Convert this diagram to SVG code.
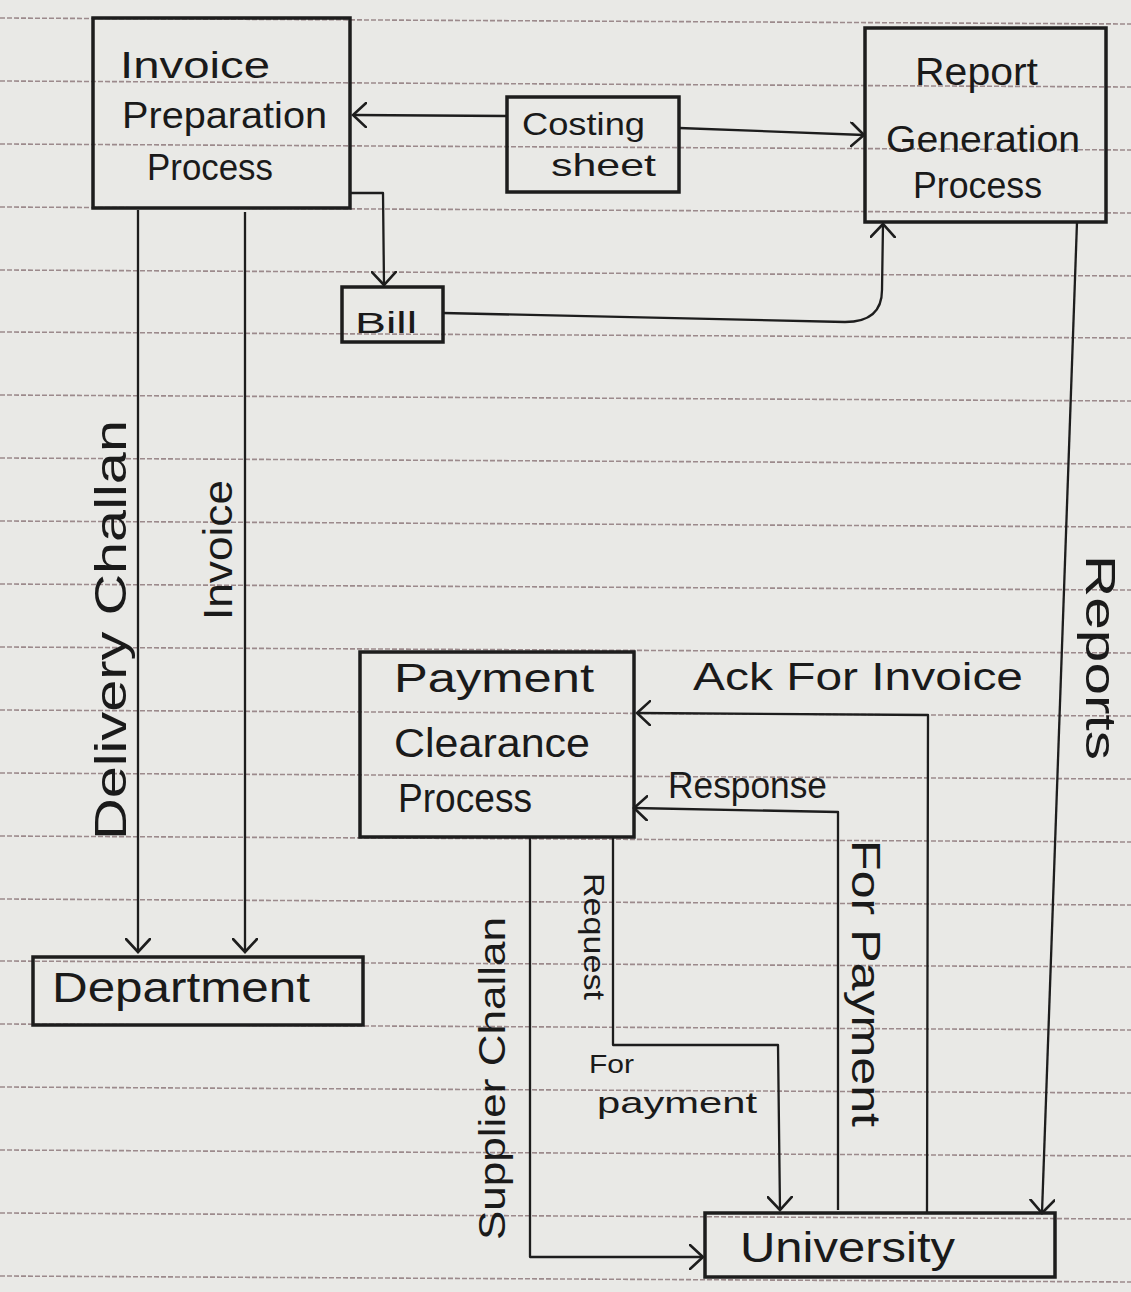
<svg xmlns="http://www.w3.org/2000/svg" width="1131" height="1292" viewBox="0 0 1131 1292">
<style>
.paper{fill:#e9e9e6}
.rule{stroke:#9c8a8c;stroke-width:1.6;stroke-dasharray:5 2;fill:none}
.box{fill:none;stroke:#1d1d1d;stroke-width:3.5}
.c{fill:none;stroke:#1d1d1d;stroke-width:2.3;stroke-linejoin:round}
.t{font-family:"Liberation Sans",Arial,sans-serif;fill:#1a1a1a}
</style>
<defs>
<marker id="ah" viewBox="0 0 16 26" refX="14" refY="13" markerWidth="16" markerHeight="26" markerUnits="userSpaceOnUse" orient="auto">
<path d="M1,1 L14,13 L1,25" fill="none" stroke="#1d1d1d" stroke-width="2.6" stroke-linecap="round"/>
</marker>
</defs>
<rect class="paper" x="0" y="0" width="1131" height="1292"/>
<g id="rules">
<line class="rule" x1="0" y1="18" x2="1131" y2="24"/>
<line class="rule" x1="0" y1="81" x2="1131" y2="87"/>
<line class="rule" x1="0" y1="144" x2="1131" y2="150"/>
<line class="rule" x1="0" y1="207" x2="1131" y2="213"/>
<line class="rule" x1="0" y1="270" x2="1131" y2="276"/>
<line class="rule" x1="0" y1="332" x2="1131" y2="338"/>
<line class="rule" x1="0" y1="395" x2="1131" y2="401"/>
<line class="rule" x1="0" y1="458" x2="1131" y2="464"/>
<line class="rule" x1="0" y1="521" x2="1131" y2="527"/>
<line class="rule" x1="0" y1="584" x2="1131" y2="590"/>
<line class="rule" x1="0" y1="647" x2="1131" y2="653"/>
<line class="rule" x1="0" y1="710" x2="1131" y2="716"/>
<line class="rule" x1="0" y1="773" x2="1131" y2="779"/>
<line class="rule" x1="0" y1="836" x2="1131" y2="842"/>
<line class="rule" x1="0" y1="899" x2="1131" y2="905"/>
<line class="rule" x1="0" y1="961" x2="1131" y2="967"/>
<line class="rule" x1="0" y1="1024" x2="1131" y2="1030"/>
<line class="rule" x1="0" y1="1087" x2="1131" y2="1093"/>
<line class="rule" x1="0" y1="1150" x2="1131" y2="1156"/>
<line class="rule" x1="0" y1="1213" x2="1131" y2="1219"/>
<line class="rule" x1="0" y1="1276" x2="1131" y2="1282"/>
</g>
<g id="connectors">
<path class="c" d="M507,116 L353,115" marker-end="url(#ah)"/>
<path class="c" d="M679,128 L864,135" marker-end="url(#ah)"/>
<path class="c" d="M350,193 L383,193 L384,285" marker-end="url(#ah)"/>
<path class="c" d="M443,313 L845,322 Q882,322 882,290 L883,224" marker-end="url(#ah)"/>
<path class="c" d="M138,210 L138,952" marker-end="url(#ah)"/>
<path class="c" d="M245,212 L245,952" marker-end="url(#ah)"/>
<path class="c" d="M1077,222 L1042,1213" marker-end="url(#ah)"/>
<path class="c" d="M927,1212 L928,715 L637,713" marker-end="url(#ah)"/>
<path class="c" d="M838,1210 L838,812 L634,808" marker-end="url(#ah)"/>
<path class="c" d="M613,838 L613,1045 L778,1045 L780,1210" marker-end="url(#ah)"/>
<path class="c" d="M530,838 L530,1257 L703,1257" marker-end="url(#ah)"/>
</g>
<g id="invoice-preparation">
<rect class="box" x="93" y="18" width="257" height="190"/>
<text class="t" x="120" y="78" font-size="36" textLength="150" lengthAdjust="spacingAndGlyphs">Invoice</text>
<text class="t" x="122" y="128" font-size="36" textLength="205" lengthAdjust="spacingAndGlyphs">Preparation</text>
<text class="t" x="147" y="180" font-size="36" textLength="126" lengthAdjust="spacingAndGlyphs">Process</text>
</g>
<g id="costing-sheet">
<rect class="box" x="507" y="97" width="172" height="95"/>
<text class="t" x="522" y="135" font-size="32" textLength="123" lengthAdjust="spacingAndGlyphs">Costing</text>
<text class="t" x="551" y="176" font-size="32" textLength="105" lengthAdjust="spacingAndGlyphs">sheet</text>
</g>
<g id="report-generation">
<rect class="box" x="865" y="28" width="241" height="194"/>
<text class="t" x="915" y="85" font-size="38" textLength="123" lengthAdjust="spacingAndGlyphs">Report</text>
<text class="t" x="886" y="152" font-size="36" textLength="194" lengthAdjust="spacingAndGlyphs">Generation</text>
<text class="t" x="913" y="198" font-size="36" textLength="129" lengthAdjust="spacingAndGlyphs">Process</text>
</g>
<g id="bill">
<rect class="box" x="342" y="287" width="101" height="55"/>
<text class="t" x="355" y="333" font-size="30" textLength="62" lengthAdjust="spacingAndGlyphs">Bill</text>
</g>
<g id="payment-clearance">
<rect class="box" x="360" y="652" width="274" height="185"/>
<text class="t" x="394" y="692" font-size="40" textLength="200" lengthAdjust="spacingAndGlyphs">Payment</text>
<text class="t" x="394" y="757" font-size="40" textLength="196" lengthAdjust="spacingAndGlyphs">Clearance</text>
<text class="t" x="398" y="812" font-size="40" textLength="134" lengthAdjust="spacingAndGlyphs">Process</text>
</g>
<g id="department">
<rect class="box" x="33" y="957" width="330" height="68"/>
<text class="t" x="52" y="1002" font-size="42" textLength="258" lengthAdjust="spacingAndGlyphs">Department</text>
</g>
<g id="university">
<rect class="box" x="705" y="1213" width="350" height="64"/>
<text class="t" x="740" y="1262" font-size="42" textLength="215" lengthAdjust="spacingAndGlyphs">University</text>
</g>
<g id="labels">
<text class="t" transform="translate(126,840) rotate(-90)" font-size="44" textLength="420" lengthAdjust="spacingAndGlyphs">Delivery Challan</text>
<text class="t" transform="translate(232,620) rotate(-90)" font-size="40" textLength="140" lengthAdjust="spacingAndGlyphs">Invoice</text>
<text class="t" transform="translate(1086,555) rotate(90)" font-size="42" textLength="205" lengthAdjust="spacingAndGlyphs">Reports</text>
<text class="t" x="693" y="690" font-size="38" textLength="330" lengthAdjust="spacingAndGlyphs">Ack For Invoice</text>
<text class="t" x="668" y="798" font-size="36" textLength="159" lengthAdjust="spacingAndGlyphs">Response</text>
<text class="t" transform="translate(852,840) rotate(90)" font-size="40" textLength="287" lengthAdjust="spacingAndGlyphs">For Payment</text>
<text class="t" transform="translate(584,873) rotate(90)" font-size="30" textLength="127" lengthAdjust="spacingAndGlyphs">Request</text>
<text class="t" x="589" y="1073" font-size="26" textLength="45" lengthAdjust="spacingAndGlyphs">For</text>
<text class="t" x="597" y="1113" font-size="30" textLength="160" lengthAdjust="spacingAndGlyphs">payment</text>
<text class="t" transform="translate(505,1240) rotate(-90)" font-size="36" textLength="323" lengthAdjust="spacingAndGlyphs">Supplier Challan</text>
</g>
</svg>
